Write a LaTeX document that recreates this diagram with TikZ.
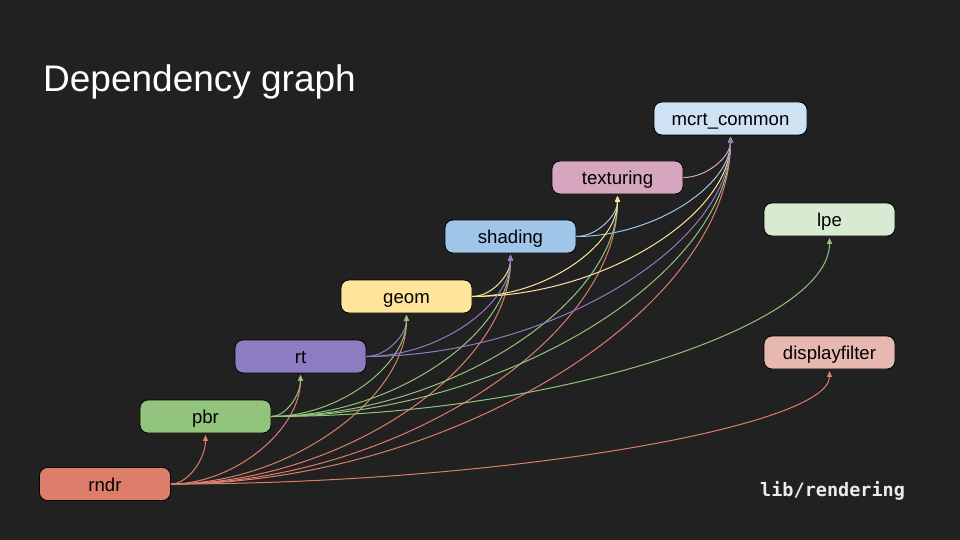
\documentclass[tikz,border=0pt]{standalone}
\usepackage{fontspec}
\setmainfont{Liberation Sans}
\setmonofont{DejaVu Sans Mono}
\usetikzlibrary{arrows.meta,calc}
\definecolor{bg}{HTML}{212121}
\definecolor{cMcrt}{HTML}{CFE2F3}
\definecolor{cTex}{HTML}{D5A6BD}
\definecolor{cShad}{HTML}{9FC5E8}
\definecolor{cGeom}{HTML}{FFE599}
\definecolor{cRt}{HTML}{8E7CC3}
\definecolor{cPbr}{HTML}{93C47D}
\definecolor{cRndr}{HTML}{DD7E6B}
\definecolor{cLpe}{HTML}{D9EAD3}
\definecolor{cDisp}{HTML}{E6B8AF}
\begin{document}
\begin{tikzpicture}[x=1pt,y=-1pt,
  box/.style={draw=black, line width=0.8pt, rounded corners=8pt,
    minimum width=131pt, minimum height=33pt, inner sep=0pt,
    text height=14pt, text depth=0pt,
    font=\fontsize{18.6}{21}\selectfont, text=black},
  dep/.style={line width=1pt, -{Triangle[length=6pt,width=5pt]}, shorten >=1.5pt,
    to path={let \p1=(\tikztostart), \p2=(\tikztotarget) in
      .. controls ({0.5*\x1+0.5*\x2},\y1) and (\x2,{0.5*\y1+0.5*\y2}) .. (\tikztotarget) \tikztonodes}}
]
\fill[bg] (0,0) rectangle (960,540);
\useasboundingbox (0,0) rectangle (960,540);

\node[anchor=base west, text=white, font=\fontsize{37}{44}\selectfont, inner sep=0pt] (title) at (43,92) {Dependency graph};
\node[anchor=base west, text=white!92!black, font=\ttfamily\bfseries\fontsize{18.5}{20}\selectfont, inner sep=0pt] (lib) at (760,496) {lib/rendering};

\node[box, fill=cMcrt, minimum width=153pt] (mcrt) at (730.5,118.5) {mcrt\_common};
\node[box, fill=cTex] (tex) at (617.5,177.5) {texturing};
\node[box, fill=cShad] (shad) at (510.5,236.5) {shading};
\node[box, fill=cGeom] (geom) at (406.5,296.5) {geom};
\node[box, fill=cRt] (rt) at (300.5,356.5) {rt};
\node[box, fill=cPbr] (pbr) at (205.5,416.5) {pbr};
\node[box, fill=cRndr] (rndr) at (105,484) {rndr};
\node[box, fill=cLpe] (lpe) at (829.5,219.5) {lpe};
\node[box, fill=cDisp] (disp) at (829.5,352.5) {displayfilter};

% shading
\draw[dep, draw=cShad] (shad.east) to (tex.south);
\draw[dep, draw=cShad] (shad.east) to (mcrt.south);
% texturing
\draw[dep, draw=cTex] (tex.east) to (mcrt.south);
% rndr
\draw[dep, draw=cRndr] (rndr.east) to (pbr.south);
\draw[dep, draw=cRndr] (rndr.east) to (rt.south);
\draw[dep, draw=cRndr] (rndr.east) to (geom.south);
\draw[dep, draw=cRndr] (rndr.east) to (shad.south);
\draw[dep, draw=cRndr] (rndr.east) to (tex.south);
\draw[dep, draw=cRndr] (rndr.east) to (mcrt.south);
\draw[dep, draw=cRndr] (rndr.east) to (disp.south);
% rt -> geom
\draw[dep, draw=cRt] (rt.east) to (geom.south);
% pbr
\draw[dep, draw=cPbr] (pbr.east) to (rt.south);
\draw[dep, draw=cPbr] (pbr.east) to (geom.south);
\draw[dep, draw=cPbr] (pbr.east) to (shad.south);
\draw[dep, draw=cPbr] (pbr.east) to (tex.south);
\draw[dep, draw=cPbr] (pbr.east) to (mcrt.south);
\draw[dep, draw=cPbr] (pbr.east) to (lpe.south);
% geom
\draw[dep, draw=cGeom] (geom.east) to (shad.south);
\draw[dep, draw=cGeom] (geom.east) to (tex.south);
\draw[dep, draw=cGeom] (geom.east) to (mcrt.south);
% rt
\draw[dep, draw=cRt] (rt.east) to (shad.south);
\draw[dep, draw=cRt] (rt.east) to (mcrt.south);
\end{tikzpicture}
\end{document}
